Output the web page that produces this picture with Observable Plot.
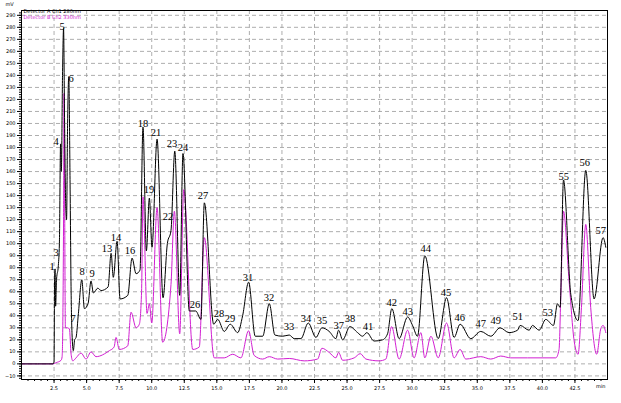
<!DOCTYPE html>
<html>
<head>
<meta charset="utf-8">
<script src="https://cdn.jsdelivr.net/npm/d3@7"></script>
<script src="https://cdn.jsdelivr.net/npm/@observablehq/plot@0.6"></script>
<style>
  html, body { margin: 0; padding: 0; background: #fff; }
  #chart { width: 621px; height: 403px; }
</style>
</head>
<body>
<div id="chart"></div>
<script>
// Detector A (black) trace: retention time (min) and signal (mV)
const detATime = [0, 2.43, 2.50, 2.54, 2.58, 2.62, 2.69, 2.83, 2.91, 3.00, 3.06, 3.15, 3.23, 3.31, 3.38, 3.46, 3.54, 3.63, 3.73, 3.81, 3.88, 3.98, 4.08, 4.19, 4.37, 4.63, 4.83, 5.11, 5.34, 5.52, 5.86, 6.11, 6.65, 6.88, 7.05, 7.34, 7.57, 8.16, 8.49, 8.80, 9.10, 9.33, 9.59, 9.82, 10.02, 10.41, 10.87, 11.20, 11.48, 11.77, 12.15, 12.40, 12.89, 13.38, 13.78, 14.04, 14.76, 15.07, 15.57, 16.03, 16.60, 16.98, 17.44, 17.95, 18.52, 19.03, 19.46, 20.05, 20.56, 20.94, 21.46, 22.02, 22.61, 23.07, 23.63, 24.14, 24.35, 24.66, 25.22, 25.81, 26.19, 26.52, 27.08, 27.73, 28.11, 28.44, 29.00, 29.65, 30.03, 30.41, 30.97, 32.00, 32.64, 33.22, 33.68, 34.50, 35.27, 36.04, 36.75, 37.44, 38.09, 38.29, 38.98, 39.24, 39.75, 40.26, 40.85, 41.16, 41.36, 41.62, 42.18, 42.74, 43.33, 43.97, 44.66, 44.87];
const detAValue = [0, 0, 2, 70, 79, 48, 70, 82, 100, 183, 160, 240, 279, 200, 140, 120, 200, 239, 150, 60, 25, 11, 20, 22, 42, 70, 46, 50, 69, 59, 63, 61, 64, 92, 72, 102, 54, 57, 88, 75, 78, 197, 94, 138, 97, 187, 55, 100, 111, 177, 57, 175, 44, 44, 37, 134, 33, 37, 27, 33, 26, 40, 68, 23, 23, 50, 24, 23, 24, 21, 21, 34, 22, 30, 27, 21, 28, 20, 31, 26, 23, 26, 19, 20, 25, 46, 21, 39, 32, 23, 90, 21, 55, 22, 33, 21, 27, 23, 30, 26, 28, 32, 28, 32, 28, 37, 32, 50, 47, 153, 58, 36, 161, 54, 105, 97];

// Detector B (magenta) trace
const detBTime = [0, 2.43, 2.66, 3.04, 3.12, 3.23, 3.27, 3.32, 3.37, 3.55, 3.68, 3.81, 3.94, 4.19, 4.57, 4.96, 5.34, 5.72, 6.75, 7.11, 7.26, 7.51, 8.16, 8.41, 8.80, 9.05, 9.22, 9.33, 9.64, 9.82, 10.00, 10.41, 10.84, 11.48, 11.74, 12.15, 12.46, 13.15, 13.65, 14.04, 14.80, 15.07, 15.57, 16.22, 16.85, 17.44, 17.87, 18.52, 19.03, 19.67, 20.56, 21.71, 22.74, 23.07, 23.63, 24.14, 24.35, 24.66, 25.55, 26.01, 26.45, 27.47, 27.98, 28.42, 29.00, 29.65, 30.15, 30.67, 30.97, 31.44, 32.00, 32.64, 33.22, 33.68, 34.12, 35.27, 36.04, 36.80, 37.57, 38.86, 41.03, 41.28, 41.41, 41.62, 42.05, 42.44, 42.74, 43.00, 43.33, 43.71, 44.17, 44.48, 44.66, 44.87];
const detBValue = [0, 0, 1, 3, 6, 120, 225, 120, 30, 30, 29, 8, 2.5, 5, 9, 4, 10, 6, 11, 14, 22, 12, 15, 43, 30, 33, 60, 139, 42, 50, 34, 130, 18, 66, 127, 25, 145, 12, 14, 105, 5, 5, 5, 8, 5, 27.5, 7, 4, 6, 4, 4.5, 2.5, 4, 13, 9.5, 5, 9.5, 3, 5, 8.5, 4, 2.5, 4, 31, 4, 28, 5, 26, 5, 23, 5, 34, 5, 12, 4, 6, 4, 6.5, 5, 5, 5, 12, 55, 127, 69, 19, 8, 47, 116, 47, 8, 29, 32, 26];

// Peak number labels (label anchor position)
const peakNames = ["1","3","4","5","6","7","8","9","13","14","16","18","19","21","22","23","24","26","27","28","29","31","32","33","34","35","37","38","41","42","43","44","45","46","47","49","51","53","55","56","57"];
const peakTime  = [2.35, 2.66, 2.66, 3.12, 3.81, 3.96, 4.65, 5.42, 6.57, 7.26, 8.33, 9.33, 9.79, 10.33, 11.25, 11.56, 12.40, 13.32, 13.94, 15.16, 16.01, 17.39, 19.00, 20.54, 21.84, 23.07, 24.37, 25.22, 26.60, 28.44, 29.67, 31.05, 32.59, 33.66, 35.27, 36.42, 38.11, 40.41, 41.64, 43.26, 44.48];
const peakValue = [80.8, 92.5, 185, 280.8, 237.5, 37.5, 76.7, 75, 95.8, 105, 94, 200, 145, 192.5, 122.5, 183, 180, 49, 140, 41.7, 37.5, 71.7, 55, 30.8, 37.5, 35.8, 31.7, 37.5, 30.8, 50.8, 43.3, 95.8, 59.2, 38.3, 33.3, 35.8, 39.2, 42.5, 155.8, 167.5, 110.8];

const legendNames = ["Detector A Ch1 280nm", "Detector B Ch2 330nm"];
const legendColors = ["#000000", "#d21fd2"];

const xMajor = d3.range(2.5, 44, 2.5);
const xMinor = d3.range(0.5, 45, 0.5);
const yMajor = d3.range(-10, 291, 10);
const yMinor = d3.range(-12, 294, 2);

const detA = detATime.map((t, i) => ({t, v: detAValue[i]}));
const detB = detBTime.map((t, i) => ({t, v: detBValue[i]}));
const peaks = peakNames.map((n, i) => ({n, t: peakTime[i], v: peakValue[i]}));

const chart = Plot.plot({
  width: 621,
  height: 403,
  marginLeft: 21,
  marginRight: 14,
  marginTop: 10,
  marginBottom: 24,
  style: {fontFamily: "DejaVu Sans", fontSize: "5px", background: "#fff", color: "#000"},
  x: {domain: [0, 45], label: null},
  y: {domain: [-13, 294], label: null},
  marks: [
    Plot.gridY(yMajor, {stroke: "#999", strokeOpacity: 1, strokeDasharray: "4,3", strokeWidth: 0.8}),
    Plot.gridX(xMajor, {stroke: "#999", strokeOpacity: 1, strokeDasharray: "4,3", strokeWidth: 0.8}),
    Plot.axisY(yMinor, {tickSize: 2, tickFormat: () => "", stroke: "#000", label: null}),
    Plot.axisY(yMajor, {tickSize: 4, tickPadding: 2, tickFormat: d3.format("d"), fontSize: 5, label: null, stroke: "#000"}),
    Plot.axisX(xMinor, {tickSize: 2, tickFormat: () => "", stroke: "#000", label: null}),
    Plot.axisX(xMajor, {tickSize: 4, tickPadding: 3, tickFormat: d3.format(".1f"), fontSize: 5, label: null, stroke: "#000"}),
    Plot.line(detB, {x: "t", y: "v", stroke: legendColors[1], strokeWidth: 1, curve: "monotone-x"}),
    Plot.line(detA, {x: "t", y: "v", stroke: legendColors[0], strokeWidth: 1, curve: "monotone-x"}),
    Plot.text(peaks, {x: "t", y: "v", text: "n", fontFamily: "Liberation Serif", fontSize: 10.5, fill: "#000"}),
    Plot.text([legendNames[0]], {frameAnchor: "top-left", dx: 2, dy: -1, fill: legendColors[0], fontSize: 5, textAnchor: "start"}),
    Plot.text([legendNames[1]], {frameAnchor: "top-left", dx: 2, dy: 5, fill: legendColors[1], fontSize: 5, textAnchor: "start"}),
    Plot.text(["mV"], {frameAnchor: "top-left", dx: -16, dy: -8, fontSize: 5, textAnchor: "start"}),
    Plot.text(["min"], {frameAnchor: "bottom-right", dx: -2, dy: 8, fontSize: 5, textAnchor: "end"}),
    Plot.frame({stroke: "#000", strokeWidth: 1})
  ]
});

document.getElementById("chart").appendChild(chart);
</script>
</body>
</html>
